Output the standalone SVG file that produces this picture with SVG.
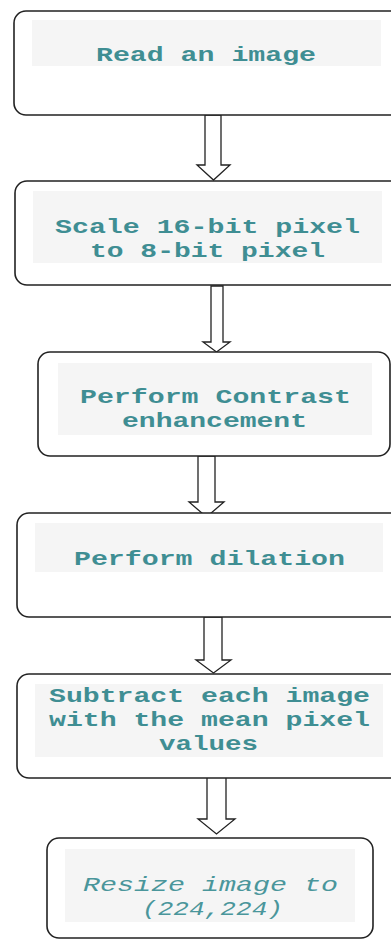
<svg xmlns="http://www.w3.org/2000/svg" width="391" height="940" viewBox="0 0 391 940">
<style>
.box{fill:#ffffff;stroke:#222222;stroke-width:1.6}
.band{fill:#f5f5f5}
.t{font-family:"Liberation Mono","Courier New",monospace;font-weight:bold;font-size:21px;fill:#3f8e93;text-anchor:start}
.ti{font-family:"Liberation Mono","Courier New",monospace;font-style:italic;font-size:21px;fill:#4a969b}
.arrow{fill:#ffffff;stroke:#222222;stroke-width:1.3;stroke-linejoin:miter}
</style>
<rect width="391" height="940" fill="#ffffff"/>
<g id="connectors">
<polygon class="arrow" points="205,115 221,115 221,165 230,165 213.5,180 197,165 205,165"/>
<polygon class="arrow" points="211,286 223,286 223,342 230,342 216.5,352 203,342 211,342"/>
<polygon class="arrow" points="198,456 215,456 215,502 224,502 206.5,517 189,502 198,502"/>
<polygon class="arrow" points="204,617 222,617 222,660 231,660 213.5,673 196,660 204,660"/>
<polygon class="arrow" points="207,777 226,777 226,819 235,819 216.5,834 198,819 207,819"/>
</g>
<g id="n1">
<rect class="box" x="14" y="11" width="390" height="104" rx="12"/>
<rect class="band" x="32" y="20" width="349" height="46"/>
<text class="t" x="96" y="61" textLength="220" lengthAdjust="spacingAndGlyphs">Read an image</text>
</g>
<g id="n2">
<rect class="box" x="15" y="181" width="390" height="104" rx="12"/>
<rect class="band" x="33" y="191" width="349" height="72"/>
<text class="t" x="55" y="233" textLength="305" lengthAdjust="spacingAndGlyphs">Scale 16-bit pixel</text>
<text class="t" x="90" y="257" textLength="235" lengthAdjust="spacingAndGlyphs">to 8-bit pixel</text>
</g>
<g id="n3">
<rect class="box" x="38" y="352" width="352" height="104" rx="12"/>
<rect class="band" x="58" y="363" width="314" height="72"/>
<text class="t" x="80" y="403" textLength="271" lengthAdjust="spacingAndGlyphs">Perform Contrast</text>
<text class="t" x="122" y="427" textLength="185" lengthAdjust="spacingAndGlyphs">enhancement</text>
</g>
<g id="n4">
<rect class="box" x="17" y="513" width="390" height="104" rx="12"/>
<rect class="band" x="35" y="523" width="348" height="49"/>
<text class="t" x="74" y="565" textLength="271" lengthAdjust="spacingAndGlyphs">Perform dilation</text>
</g>
<g id="n5">
<rect class="box" x="17" y="674" width="390" height="104" rx="12"/>
<rect class="band" x="35" y="684" width="348" height="73"/>
<text class="t" x="49" y="702" textLength="321" lengthAdjust="spacingAndGlyphs">Subtract each image</text>
<text class="t" x="49" y="726" textLength="321" lengthAdjust="spacingAndGlyphs">with the mean pixel</text>
<text class="t" x="159" y="750" textLength="99" lengthAdjust="spacingAndGlyphs">values</text>
</g>
<g id="n6">
<rect class="box" x="47" y="838" width="326" height="100" rx="12"/>
<rect class="band" x="65" y="849" width="290" height="73"/>
<text class="ti" x="83" y="891" textLength="255" lengthAdjust="spacingAndGlyphs">Resize image to</text>
<text class="ti" x="142" y="915" textLength="141" lengthAdjust="spacingAndGlyphs">(224,224)</text>
</g>
</svg>
